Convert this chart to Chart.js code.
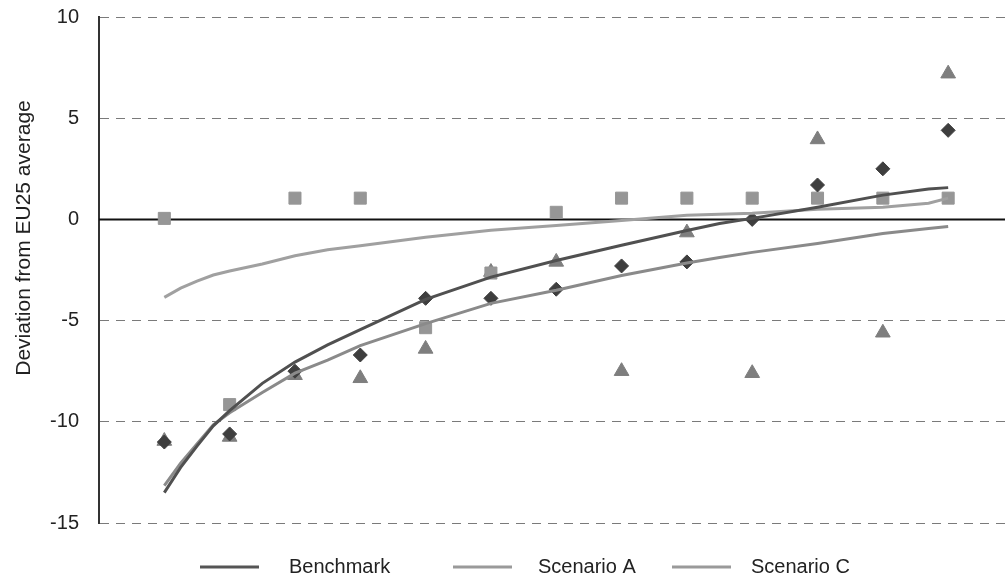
<!DOCTYPE html>
<html>
<head>
<meta charset="utf-8">
<script src="https://cdn.jsdelivr.net/npm/chart.js@4.4.0/dist/chart.umd.min.js"></script>
<style>
  html, body { margin: 0; padding: 0; background: #fff; }
</style>
</head>
<body>
<canvas id="chart" width="1005" height="579"></canvas>
<script>
// tick labels on the value axis
const yTicks = [-15, -10, -5, 0, 5, 10];

// the 13 observations (x = position in sorted order)
const markerX = [1, 2, 3, 4, 5, 6, 7, 8, 9, 10, 11, 12, 13];
const benchmarkPts = [-11.0, -10.6, -7.5, -6.7, -3.9, -3.9, -3.45, -2.3, -2.1, 0.0, 1.7, 2.5, 4.4];
const scenarioAPts = [0.05, -9.15, 1.05, 1.05, -5.35, -2.65, 0.35, 1.05, 1.05, 1.05, 1.05, 1.05, 1.05];
const scenarioCPts = [-10.95, -10.75, -7.7, -7.85, -6.4, -2.6, -2.1, -7.5, -0.65, -7.6, 3.95, -5.6, 7.2];

// trend lines
const trendX = [1, 1.25, 1.5, 1.75, 2, 2.5, 3, 3.5, 4, 5, 6, 7, 8, 9, 9.5, 10, 11, 12, 12.7, 13];
const benchmarkTrend = [-13.5, -12.25, -11.2, -10.2, -9.45, -8.1, -7.05, -6.2, -5.45, -3.95, -2.85, -2.03, -1.28, -0.55, -0.2, 0.05, 0.6, 1.2, 1.5, 1.57];
const scenarioATrend = [-3.85, -3.4, -3.05, -2.75, -2.55, -2.2, -1.8, -1.5, -1.3, -0.88, -0.54, -0.3, -0.05, 0.2, 0.25, 0.3, 0.5, 0.6, 0.8, 1.05];
const scenarioCTrend = [-13.15, -12.05, -11.1, -10.15, -9.55, -8.55, -7.6, -6.95, -6.24, -5.15, -4.15, -3.5, -2.77, -2.15, -1.88, -1.63, -1.19, -0.7, -0.45, -0.35];

const seriesNames = ['Benchmark', 'Scenario A', 'Scenario C'];
const FONT = '"Liberation Sans", Arial, sans-serif';

const toPts = (xs, ys) => xs.map((x, i) => ({ x: x, y: ys[i] }));

function trendSet(label, ys, color) {
    return {
        label: label,
        data: toPts(trendX, ys),
        showLine: true,
        borderColor: color,
        borderWidth: 3,
        pointRadius: 0,
        tension: 0,
        legendLine: true,
        order: 1
    };
}

function markerSet(label, ys, style, radius, color) {
    return {
        label: label,
        data: toPts(markerX, ys),
        showLine: false,
        pointStyle: style,
        pointRadius: radius,
        backgroundColor: color,
        borderColor: color,
        borderWidth: 1,
        order: 2
    };
}

// solid black line at zero
const zeroLine = {
    id: 'zeroLine',
    beforeDatasetsDraw(chart) {
        const { ctx, chartArea, scales } = chart;
        const y = Math.round(scales.y.getPixelForValue(0)) + 0.5;
        ctx.save();
        ctx.strokeStyle = '#111';
        ctx.lineWidth = 2;
        ctx.beginPath();
        ctx.moveTo(chartArea.left, y);
        ctx.lineTo(chartArea.right, y);
        ctx.stroke();
        ctx.restore();
    }
};

// axis title and legend, placed like the original
const extras = {
    id: 'extras',
    afterDraw(chart) {
        const ctx = chart.ctx;
        ctx.save();
        ctx.fillStyle = '#222';
        ctx.textBaseline = 'middle';

        // y title
        ctx.save();
        ctx.font = '21px ' + FONT;
        ctx.translate(24, 238);
        ctx.rotate(-Math.PI / 2);
        ctx.textAlign = 'center';
        ctx.fillText('Deviation from EU25 average', 0, 0);
        ctx.restore();

        // legend
        ctx.font = '20px ' + FONT;
        const starts = [200, 453, 672];
        const gaps = [30, 26, 20];
        const lines = chart.data.datasets.filter(d => d.legendLine);
        lines.forEach((d, i) => {
            const x = starts[i];
            const y = 567;
            ctx.strokeStyle = i === 0 ? '#555' : '#9a9a9a';
            ctx.lineWidth = 3;
            ctx.beginPath();
            ctx.moveTo(x, y);
            ctx.lineTo(x + 59, y);
            ctx.stroke();
            ctx.textAlign = 'left';
            ctx.fillText(d.label, x + 59 + gaps[i], y);
        });
        ctx.restore();
    }
};

new Chart(document.getElementById('chart'), {
    type: 'scatter',
    data: {
        datasets: [
            trendSet(seriesNames[0], benchmarkTrend, '#505050'),
            trendSet(seriesNames[1], scenarioATrend, '#a0a0a0'),
            trendSet(seriesNames[2], scenarioCTrend, '#8a8a8a'),
            markerSet('Benchmark (countries)', benchmarkPts, 'rectRot', 7, '#3e3e3e'),
            markerSet('Scenario A (countries)', scenarioAPts, 'rect', 8.5, '#969696'),
            markerSet('Scenario C (countries)', scenarioCPts, 'triangle', 8.5, '#7e7e7e')
        ]
    },
    options: {
        responsive: false,
        animation: false,
        devicePixelRatio: 1,
        layout: { autoPadding: false, padding: { top: 17, right: 0, bottom: 56, left: 0 } },
        plugins: {
            legend: { display: false },
            tooltip: { enabled: false }
        },
        scales: {
            x: {
                type: 'linear',
                min: 0,
                max: 13.87,
                display: false
            },
            y: {
                min: -15,
                max: 10,
                afterBuildTicks: s => { s.ticks = yTicks.map(v => ({ value: v })); },
                afterFit: s => {
                    s.width = 99;
                    s.paddingTop = 0;
                    s.paddingBottom = 0;
                },
                ticks: {
                    color: '#222',
                    padding: 20,
                    font: { family: FONT, size: 20 }
                },
                grid: { color: '#7a7a7a', lineWidth: 1, drawTicks: false },
                border: { display: true, color: '#333', width: 2, dash: [9, 7] }
            }
        }
    },
    plugins: [zeroLine, extras]
});
</script>
</body>
</html>
